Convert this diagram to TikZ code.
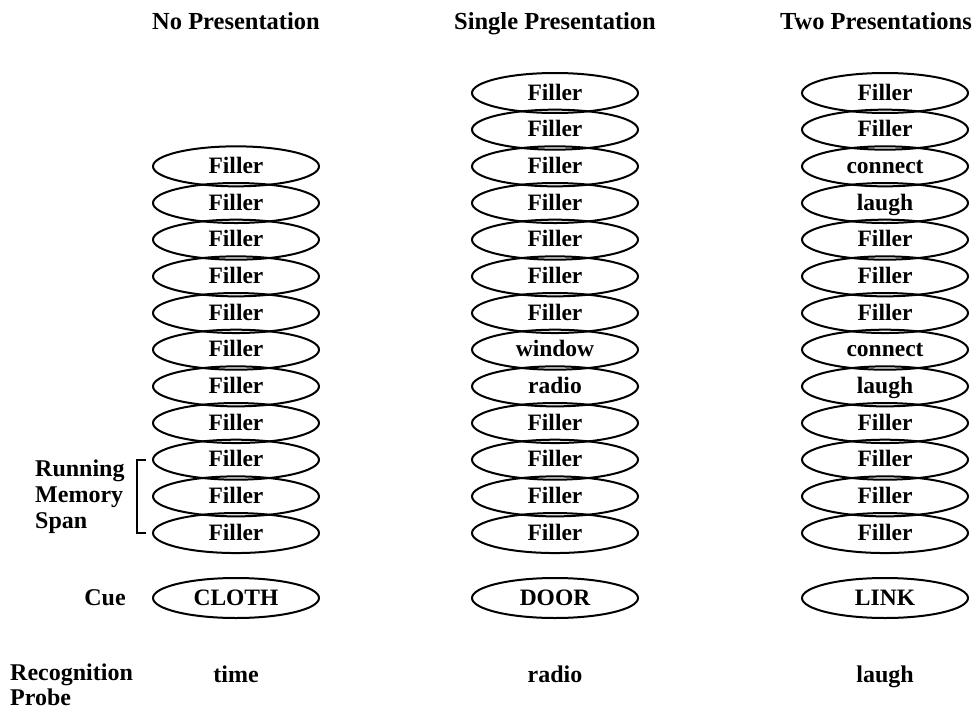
\documentclass[tikz,border=0pt]{standalone}
\usepackage{fontspec}
\setmainfont{Liberation Serif}
\usetikzlibrary{shapes.geometric}
\begin{document}
\begin{tikzpicture}[x=1pt,y=-1pt,
  item/.style={ellipse,draw,line width=2pt,minimum width=166pt,minimum height=40pt,
    inner sep=0pt,font=\fontsize{23.5}{25}\selectfont\bfseries,text height=17pt,text depth=3pt},
  tag/.style={inner sep=0pt,font=\fontsize{24}{25.5}\selectfont\bfseries,text height=17pt,text depth=3pt},
  head/.style={inner sep=0pt,font=\fontsize{24.5}{26}\selectfont\bfseries,text height=17pt,text depth=3pt}]
\useasboundingbox (0,0) rectangle (977,709);

% column headings
\node[head] (h1) at (236,23) {No Presentation};
\node[head] (h2) at (555,23) {Single Presentation};
\node[head] (h3) at (876,23) {Two Presentations};

% study lists
\foreach \i in {2,...,12}
  \node[item] (a\i) at (236,{93+36.67*\i}) {Filler};
\foreach \w [count=\i from 0] in {Filler,Filler,Filler,Filler,Filler,Filler,Filler,window,radio,Filler,Filler,Filler,Filler}
  \node[item] (b\i) at (555,{93+36.67*\i}) {\w};
\foreach \w [count=\i from 0] in {Filler,Filler,connect,laugh,Filler,Filler,Filler,connect,laugh,Filler,Filler,Filler,Filler}
  \node[item] (c\i) at (885,{93+36.67*\i}) {\w};

% cues
\node[item] (cue1) at (236,598) {CLOTH};
\node[item] (cue2) at (555,598) {DOOR};
\node[item] (cue3) at (885,598) {LINK};
\node[tag] (cuelab) at (105,598) {Cue};

% recognition probes
\node[tag,anchor=west,align=left,text height=,text depth=] (rp) at (10,685) {Recognition\\[-1pt]Probe};
\node[tag] (p1) at (236,675) {time};
\node[tag] (p2) at (555,675) {radio};
\node[tag] (p3) at (885,675) {laugh};

% running memory span bracket
\node[tag,anchor=west,align=left,text height=,text depth=] (rms) at (35,497) {Running\\[0.5pt]Memory\\[0.5pt]Span};
\draw[line width=2pt] (146,460) -- (137,460) -- (137,533) -- (146,533);
\end{tikzpicture}
\end{document}
